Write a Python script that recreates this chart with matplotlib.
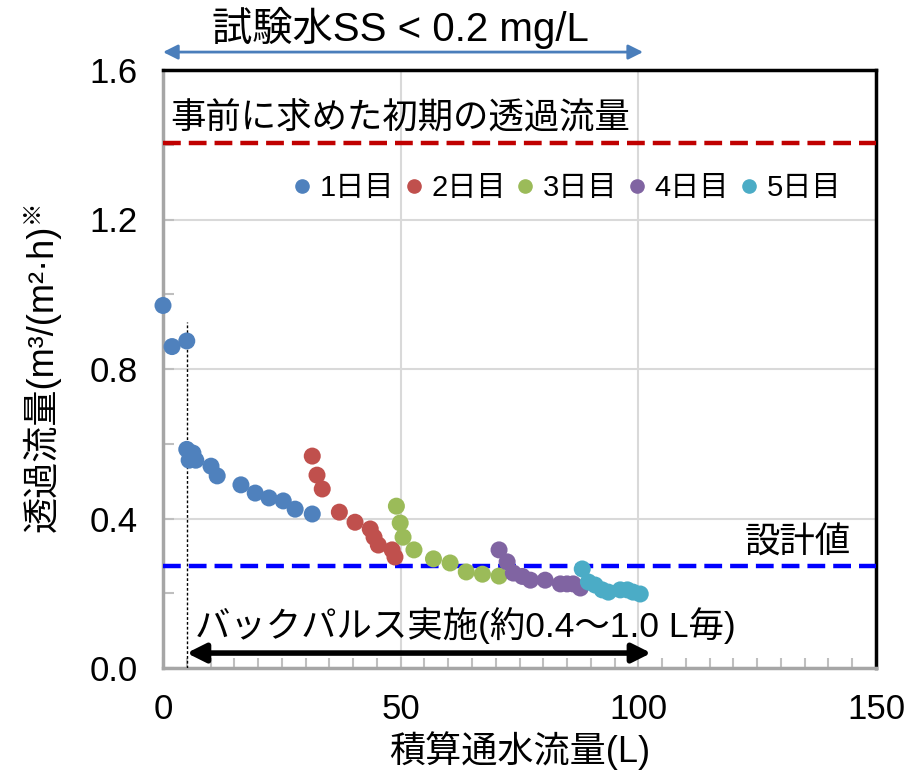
import matplotlib
matplotlib.use("Agg")
import matplotlib.pyplot as plt
from matplotlib.lines import Line2D
from matplotlib.ticker import MultipleLocator

FAM = ['Liberation Sans', 'Noto Sans CJK JP']
plt.rcParams['font.family'] = FAM

# ---- data ----
day1_x = [0.0, 1.9, 5.0, 5.0, 6.3, 5.5, 6.9, 10.1, 11.4, 16.4, 19.4, 22.3, 25.3, 27.8, 31.4]
day1_y = [0.97, 0.86, 0.875, 0.585, 0.575, 0.556, 0.556, 0.54, 0.514, 0.49, 0.468, 0.455, 0.447, 0.425, 0.412]
day2_x = [31.4, 32.4, 33.5, 37.1, 40.4, 43.6, 44.4, 45.3, 48.2, 48.8]
day2_y = [0.567, 0.516, 0.479, 0.417, 0.39, 0.372, 0.35, 0.329, 0.316, 0.297]
day3_x = [49.1, 49.9, 50.5, 52.8, 56.9, 60.4, 63.8, 67.2, 70.7]
day3_y = [0.433, 0.388, 0.35, 0.316, 0.292, 0.281, 0.257, 0.251, 0.246]
day4_x = [70.7, 72.4, 73.7, 75.6, 77.3, 80.4, 83.6, 85.0, 86.3, 87.8]
day4_y = [0.316, 0.284, 0.254, 0.245, 0.235, 0.235, 0.225, 0.225, 0.225, 0.214]
day5_x = [88.2, 89.5, 90.9, 92.4, 93.7, 96.2, 97.7, 98.9, 100.4]
day5_y = [0.265, 0.23, 0.222, 0.209, 0.203, 0.209, 0.209, 0.203, 0.198]

series_labels = ['1日目', '2日目', '3日目', '4日目', '5日目']
series_colors = ['#4F81BD', '#C0504D', '#9BBB59', '#8064A2', '#4BACC6']

initial_flux = 1.405
design_flux = 0.272
backpulse_start = 5.0
backpulse_end = 102.7
ss_end = 101.0

x_ticks = [0, 50, 100, 150]
y_ticks = [0.0, 0.4, 0.8, 1.2, 1.6]

# ---- figure ----
fig = plt.figure(figsize=(9.10, 7.77), dpi=100)
ax = fig.add_axes([163/910, 1-668/777, (876-163)/910, (668-70)/777])
ax.set_xlim(0, 150)
ax.set_ylim(0, 1.6)

ax.set_xticks(x_ticks)
ax.set_xticklabels([str(v) for v in x_ticks])
ax.set_yticks(y_ticks)
ax.set_yticklabels([f"{v:.1f}" for v in y_ticks])
ax.xaxis.set_minor_locator(MultipleLocator(5))
ax.yaxis.set_minor_locator(MultipleLocator(0.2))
ax.tick_params(axis='both', which='both', direction='in', color='#bfbfbf', width=1.5)
ax.tick_params(axis='x', which='major', length=8, labelsize=25, pad=18)
ax.tick_params(axis='x', which='minor', length=7)
ax.tick_params(axis='y', which='both', length=8, labelsize=25, pad=18)

ax.grid(True, which='major', color='#d9d9d9', lw=1.5)
ax.set_axisbelow(True)

for s in ['left', 'bottom']:
    ax.spines[s].set_color('#a6a6a6')
    ax.spines[s].set_linewidth(2.5)
for s in ['top', 'right']:
    ax.spines[s].set_color('black')
    ax.spines[s].set_linewidth(2.5)

# reference lines
ax.axhline(initial_flux, color='#C00000', lw=3.2, linestyle=(0, (4, 1.8)), clip_on=False, zorder=3)
ax.axhline(design_flux, color='#0000FF', lw=3.2, linestyle=(0, (4, 1.8)), zorder=3)
ax.plot([backpulse_start, backpulse_start], [0, 0.925], color='black', lw=1, linestyle=(0, (2, 1.5)), zorder=3)

# data
xs = [day1_x, day2_x, day3_x, day4_x, day5_x]
ys = [day1_y, day2_y, day3_y, day4_y, day5_y]
for x, y, c in zip(xs, ys, series_colors):
    ax.scatter(x, y, s=150, color=c, edgecolors='none', zorder=4, clip_on=False)

# arrows
ax.annotate('', xy=(backpulse_end, 0.04), xytext=(backpulse_start, 0.04),
            arrowprops=dict(arrowstyle='<|-|>', color='black', lw=4, mutation_scale=28,
                            shrinkA=0, shrinkB=0), zorder=5)
ax.annotate('', xy=(ss_end, 1.648), xytext=(0, 1.648), xycoords='data',
            arrowprops=dict(arrowstyle='<|-|>', color='#4A7EBB', lw=2, mutation_scale=22,
                            shrinkA=0, shrinkB=0), annotation_clip=False)

# texts
ax.text(1.5, 1.47, '事前に求めた初期の透過流量', fontsize=25.5, ha='left', va='center', family=FAM)
ax.text(144.6, 0.334, '設計値', fontsize=25.5, ha='right', va='center', family=FAM)
ax.text(6.7, 0.115, 'バックパルス実施(約0.4～1.0 L毎)', fontsize=25.5, ha='left', va='center', family=FAM)
ax.text(10.3, 1.712, '試験水SS < 0.2 mg/L', fontsize=29, ha='left', va='center', family=FAM, clip_on=False)

ax.set_xlabel('積算通水流量(L)', fontsize=26, labelpad=4)
ax.set_ylabel('透過流量(m³/(m²·h)', fontsize=26)
ax.yaxis.set_label_coords(-0.143, 0.485)
fig.text(32/910, 1-211/777, '※', fontsize=17, rotation=90, ha='center', va='center', family=FAM)

# legend
handles = [Line2D([], [], marker='o', linestyle='none', color=c, markersize=9.5) for c in series_colors]
ax.legend(handles, series_labels, ncol=5, frameon=False, loc='center',
          bbox_to_anchor=((567-163)/713, (668-188)/598), fontsize=21,
          handlelength=0.6, handletextpad=0.3, columnspacing=0.38, borderpad=0)

fig.savefig('out.png', dpi=100)
